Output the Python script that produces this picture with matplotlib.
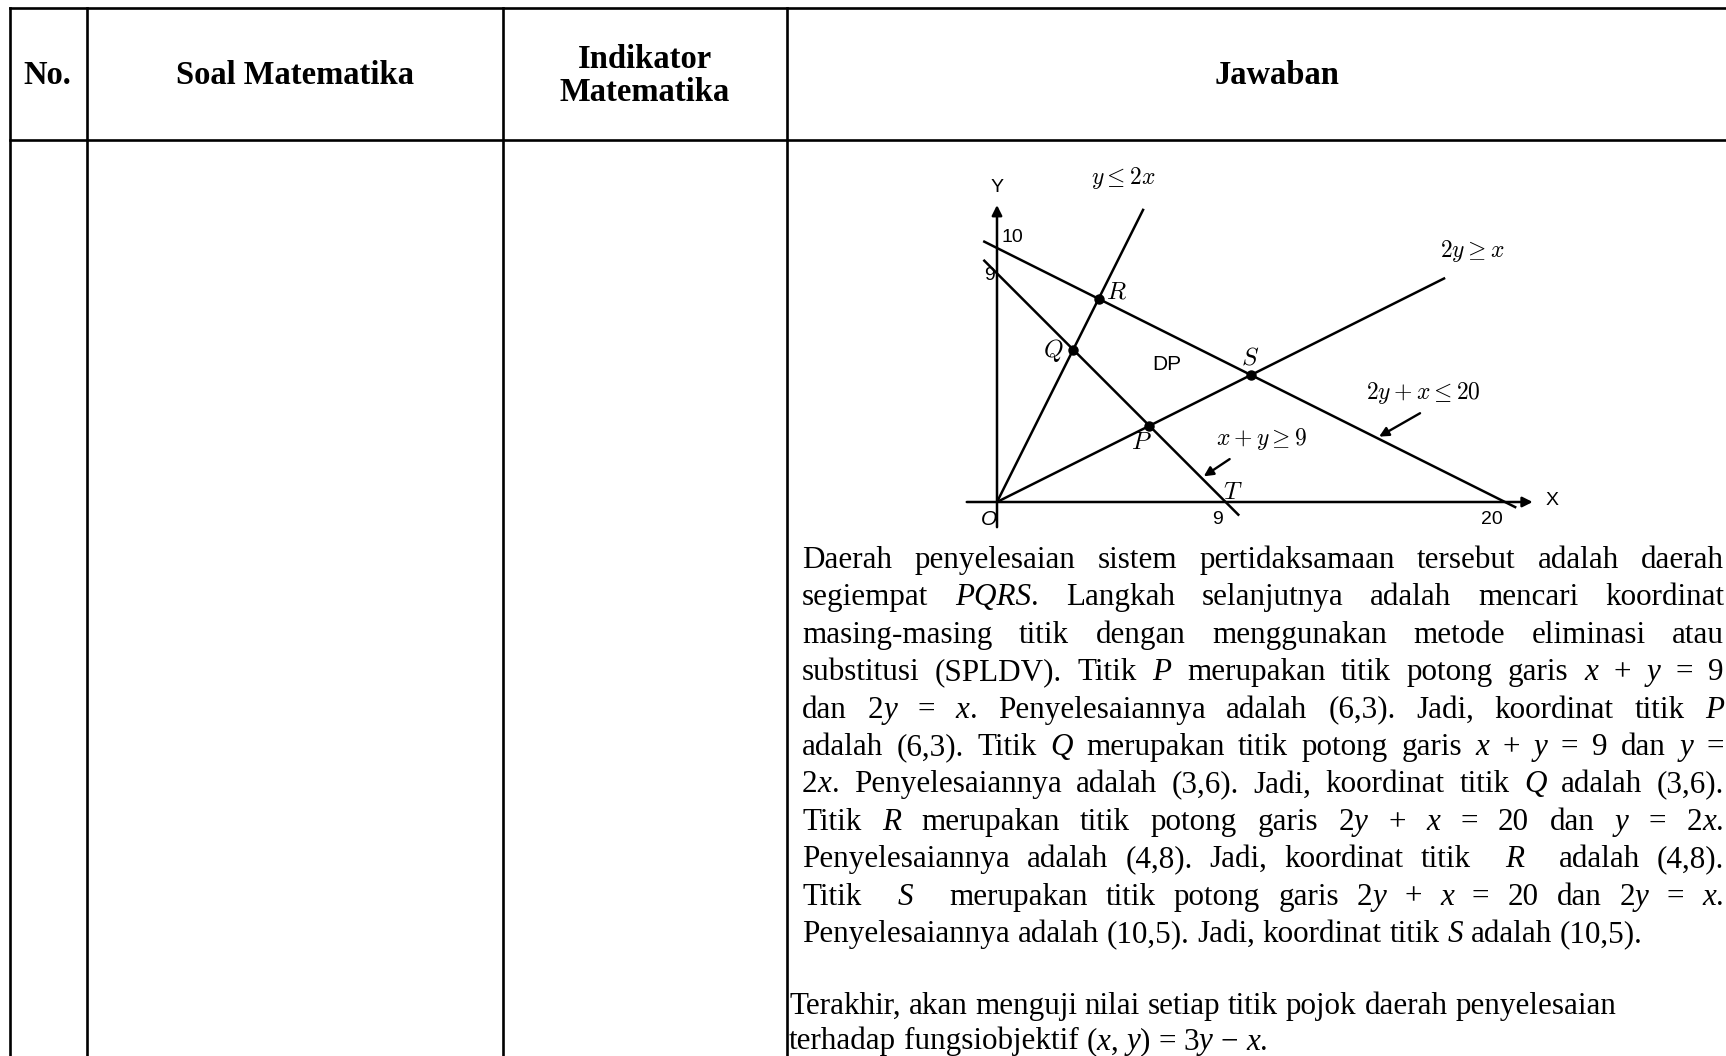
import matplotlib.pyplot as plt

plt.rcParams['mathtext.fontset'] = 'cm'

W, H = 1726, 1056

# table header
headers = ['No.', 'Soal Matematika', 'Indikator\nMatematika', 'Jawaban']
header_cx = [47, 295, 645, 1277]

# graph data: lines a*x + b*y = c
line_labels = [r'$y \leq 2x$', r'$2y \geq x$', r'$2y + x \leq 20$', r'$x + y \geq 9$']
line_a = [2, 1, 1, 1]
line_b = [-1, -2, 2, 1]
line_c = [0, 0, 20, 9]
line_x0 = [0, 0, -0.5, -0.5]
line_x1 = [5.75, 17.6, 20.4, 9.5]

corner_names = ['P', 'Q', 'R', 'S']
corner_x = [6, 3, 4, 10]
corner_y = [3, 6, 8, 5]

x_ticks = [9, 20]
y_ticks = [9, 10]

# answer text, _..._ marks italic pieces
para1 = [
    "Daerah penyelesaian sistem pertidaksamaan tersebut adalah daerah",
    "segiempat _PQRS_. Langkah selanjutnya adalah mencari koordinat",
    "masing-masing titik dengan menggunakan metode eliminasi atau",
    "substitusi (SPLDV). Titik _P_ merupakan titik potong garis _x_ + _y_ = 9",
    "dan 2_y_ = _x_. Penyelesaiannya adalah (6,3). Jadi, koordinat titik _P_",
    "adalah (6,3). Titik _Q_ merupakan titik potong garis _x_ + _y_ = 9 dan _y_ =",
    "2_x_. Penyelesaiannya adalah (3,6). Jadi, koordinat titik _Q_ adalah (3,6).",
    "Titik _R_ merupakan titik potong garis 2_y_ + _x_ = 20 dan _y_ = 2_x_.",
    "Penyelesaiannya adalah (4,8). Jadi, koordinat titik  _R_  adalah (4,8).",
    "Titik  _S_  merupakan titik potong garis 2_y_ + _x_ = 20 dan 2_y_ = _x_.",
    "Penyelesaiannya adalah (10,5). Jadi, koordinat titik _S_ adalah (10,5).",
]
para2 = [
    "Terakhir, akan menguji nilai setiap titik pojok daerah penyelesaian",
    "terhadap fungsiobjektif (_x_, _y_) = 3_y_ − _x_.",
]

FS = 22.4
SERIF = 'Liberation Serif'
SANS = 'Liberation Sans'

fig = plt.figure(figsize=(W / 100, H / 100), dpi=100)
ax = fig.add_axes([0, 0, 1, 1])
ax.set_xlim(0, W)
ax.set_ylim(H, 0)
ax.axis('off')

# table grid
lw = 1.9
ax.plot([10, W], [8, 8], color='black', lw=lw)
ax.plot([10, W], [140, 140], color='black', lw=lw)
for xv in [10, 87, 503, 787]:
    ax.plot([xv, xv], [8, H], color='black', lw=lw)

for name, cx in zip(headers, header_cx):
    ax.text(cx, 76, name, ha='center', va='center', family=SERIF,
            weight='bold', fontsize=23.5, linespacing=1.12)

renderer = fig.canvas.get_renderer()


def width_of(t):
    return t.get_window_extent(renderer).width


def measure_space():
    a = ax.text(0, 0, 'a a', family=SERIF, fontsize=FS)
    b = ax.text(0, 0, 'aa', family=SERIF, fontsize=FS)
    w = width_of(a) - width_of(b)
    a.remove()
    b.remove()
    return w


SP = measure_space()


def draw_line(s, x0, y, x1=None):
    words = []
    for w in s.split(' '):
        segs = []
        for i, seg in enumerate(w.split('_')):
            if seg:
                t = ax.text(x0, y, seg, family=SERIF, fontsize=FS,
                            style='italic' if i % 2 else 'normal',
                            va='baseline', ha='left')
                segs.append((t, width_of(t)))
        words.append(segs)
    total = sum(wd for segs in words for _, wd in segs)
    gaps = len(words) - 1
    gap = SP if (x1 is None or gaps == 0) else (x1 - x0 - total) / gaps
    x = x0
    for segs in words:
        for t, wd in segs:
            t.set_x(x)
            x += wd
        x += gap


base0 = 568
pitch = 37.4
for i, s in enumerate(para1):
    just = 1724 if i < len(para1) - 1 else None
    draw_line(s, 802, base0 + i * pitch, just)
for i, s in enumerate(para2):
    draw_line(s, 789, 1014 + i * 35.5)

# inset graph
ox, oy, sc = 997, 502, 25.4
xmin, xmax, ymin, ymax = -2.2, 23.0, -1.6, 13.6
left = (ox + xmin * sc) / W
bottom = 1 - (oy - ymin * sc) / H
gx = fig.add_axes([left, bottom, (xmax - xmin) * sc / W, (ymax - ymin) * sc / H])
gx.set_xlim(xmin, xmax)
gx.set_ylim(ymin, ymax)
gx.axis('off')

glw = 1.8
gx.annotate('', xy=(21.2, 0), xytext=(-1.3, 0),
            arrowprops=dict(arrowstyle='-|>', lw=glw, color='black', mutation_scale=15))
gx.annotate('', xy=(0, 11.8), xytext=(0, -1.1),
            arrowprops=dict(arrowstyle='-|>', lw=glw, color='black', mutation_scale=15))
gx.text(21.6, 0.05, 'X', fontsize=14, va='center', ha='left', family=SANS)
gx.text(0, 12.4, 'Y', fontsize=14, va='center', ha='center', family=SANS)

for a, b, c, x0, x1 in zip(line_a, line_b, line_c, line_x0, line_x1):
    gx.plot([x0, x1], [(c - a * x0) / b, (c - a * x1) / b], color='black', lw=glw)

gx.plot(corner_x, corner_y, 'o', color='black', ms=6.5)

label_pos = [(4.95, 12.75), (18.7, 9.9), (16.8, 4.3), (10.4, 2.5)]
for lab, (lx, ly) in zip(line_labels, label_pos):
    gx.text(lx, ly, lab, fontsize=17, ha='center', va='center')

gx.annotate('', xy=(14.95, 2.52), xytext=(16.75, 3.55),
            arrowprops=dict(arrowstyle='-|>', lw=1.7, color='black', mutation_scale=14))
gx.annotate('', xy=(8.05, 0.95), xytext=(9.25, 1.75),
            arrowprops=dict(arrowstyle='-|>', lw=1.7, color='black', mutation_scale=14))

name_pos = {'P': (5.7, 2.35), 'Q': (2.2, 5.95), 'R': (4.7, 8.3), 'S': (9.95, 5.7)}
for n in corner_names:
    px, py = name_pos[n]
    gx.text(px, py, '$' + n + '$', fontsize=18, ha='center', va='center')
gx.text(9.3, 0.4, '$T$', fontsize=18, ha='center', va='center')
gx.text(-0.3, -0.7, 'O', fontsize=15, style='italic', ha='center', va='center',
        family=SANS)
gx.text(6.7, 5.4, 'DP', fontsize=15, ha='center', va='center', family=SANS)

gx.text(x_ticks[0] - 0.3, -0.7, str(x_ticks[0]), fontsize=14, ha='center', va='center',
        family=SANS)
gx.text(x_ticks[1] - 0.5, -0.7, str(x_ticks[1]), fontsize=14, ha='center', va='center',
        family=SANS)
gx.text(-0.3, y_ticks[0] - 0.1, str(y_ticks[0]), fontsize=14, ha='center', va='center',
        family=SANS)
gx.text(0.6, y_ticks[1] + 0.4, str(y_ticks[1]), fontsize=14, ha='center', va='center',
        family=SANS)

fig.savefig('out.png', dpi=100)
